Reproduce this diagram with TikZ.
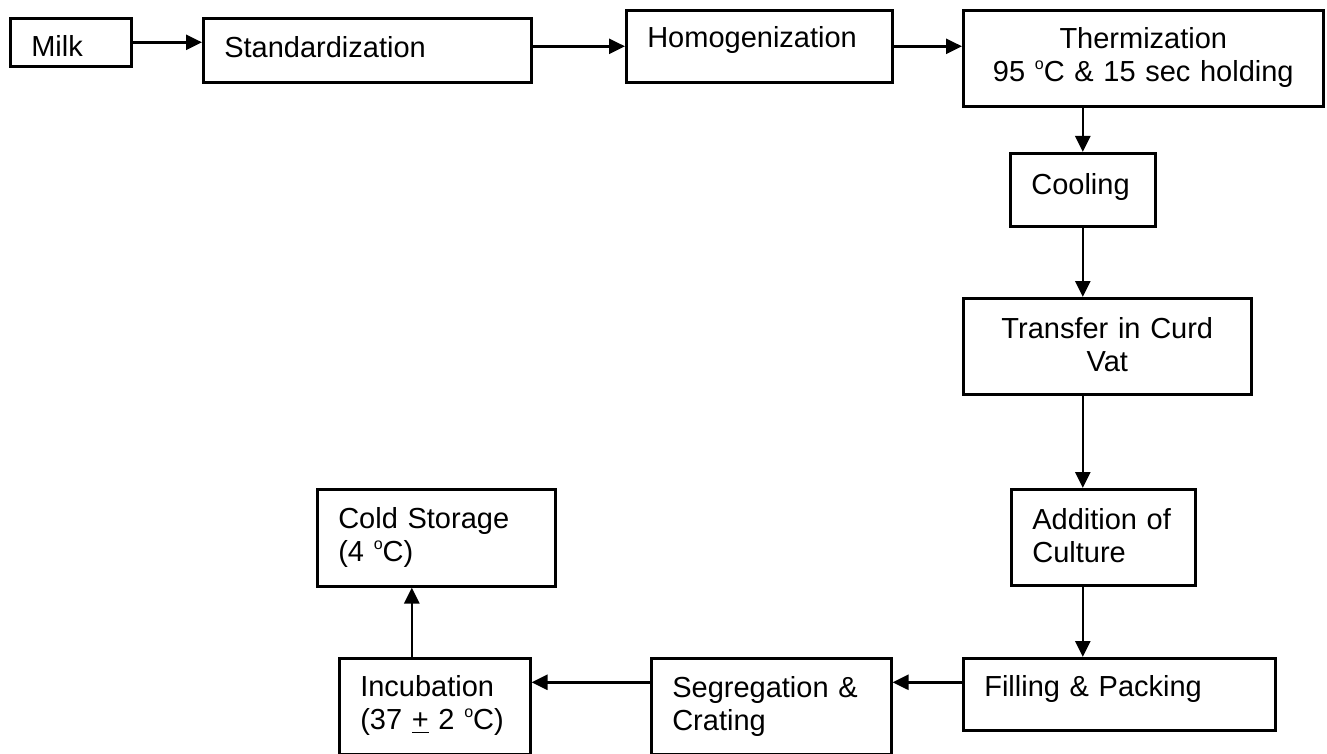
\documentclass[tikz,border=0pt]{standalone}
\usepackage{fontspec}
\setmainfont{Liberation Sans}
\usetikzlibrary{arrows.meta}

% small raised o for the degree mark
\newcommand{\supo}{\raisebox{6pt}{\fontsize{8pt}{8pt}\selectfont o}}

\begin{document}
\begin{tikzpicture}[>={Triangle[length=8pt,width=7.5pt]}, line width=1.3pt,
    stage/.style={draw, anchor=north west, inner xsep=10.5pt, inner ysep=0pt,
      align=left, font=\fontsize{14.5pt}{16.5pt}\selectfont}]
   \useasboundingbox (0,0) rectangle (663.5pt,-377pt);

   % top row
   \node[stage, text width=39.5pt, text height=19pt, text depth=5pt] (milk) at (4.5pt,-8.5pt) {Milk};
   \node[stage, text width=143pt, text height=19.5pt, text depth=12.5pt] (std) at (101pt,-8.5pt) {Standardization};
   \node[stage, text width=112pt, text height=18.5pt, text depth=17.5pt] (homog) at (312.5pt,-4.5pt) {Homogenization};
   \node[stage, align=center, text width=159pt, text height=19pt, text depth=29pt] (therm) at (481pt,-4.5pt)
     {Thermization\\95 \supo C \& 15 sec holding};

   % right column
   \node[stage, text width=51.5pt, text height=20.5pt, text depth=16pt] (cool) at (504.5pt,-76pt) {Cooling};
   \node[stage, align=center, text width=123pt, text height=20pt, text depth=28pt] (trans) at (481pt,-148.5pt)
     {Transfer in Curd\\Vat};
   \node[stage, text width=71pt, text height=20pt, text depth=28pt] (add) at (505pt,-244pt) {Addition of\\Culture};
   \node[stage, text width=135pt, text height=19pt, text depth=17pt] (fill) at (481pt,-328.5pt) {Filling \& Packing};

   % bottom row
   \node[stage, text width=99pt, text height=19.5pt, text depth=28.5pt] (seg) at (325pt,-328.5pt) {Segregation \&\\Crating};
   \node[stage, text width=74.5pt, text height=19pt, text depth=29pt] (inc) at (169pt,-328.5pt)
     {Incubation\\(37 \underline{+} 2 \supo C)};
   \node[stage, text width=98pt, text height=19.5pt, text depth=29pt] (cold) at (158pt,-244pt)
     {Cold Storage\\(4 \supo C)};

   \coordinate (fillout) at ([yshift=6pt]fill.west);
   \coordinate (segout) at ([yshift=12pt]seg.west);
   \coordinate (incout) at ([xshift=-11.5pt]inc.north);

   \path[->]
    (milk.east)             edge (milk.east -| std.west)
    (std.east |- homog.west) edge (homog.west)
    (homog.east)            edge (homog.east -| therm.west)
    (cool.north |- therm.south) edge (cool.north)
    (cool.south)            edge (cool.south |- trans.north)
    (cool.south |- trans.south) edge (cool.south |- add.north)
    (cool.south |- add.south)   edge (cool.south |- fill.north)
    (fillout)               edge (fillout -| seg.east)
    (segout)                edge (segout -| inc.east)
    (incout)                edge (incout |- cold.south);
\end{tikzpicture}
\end{document}
